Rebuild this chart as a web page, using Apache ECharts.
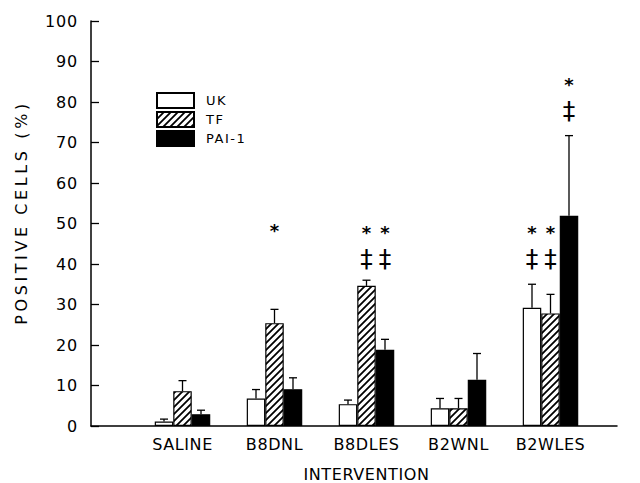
<!DOCTYPE html>
<html><head><meta charset="utf-8">
<script src="https://cdn.jsdelivr.net/npm/echarts@6/dist/echarts.min.js"></script>
<style>html,body{margin:0;padding:0;background:#fff}#c{width:640px;height:483px}</style>
</head><body><div id="c"></div><script>
// ---- data ----
const categories = ['SALINE', 'B8DNL', 'B8DLES', 'B2WNL', 'B2WLES'];
const seriesNames = ['UK', 'TF', 'PAI-1'];
const ukMean = [1.1, 6.8, 5.4, 4.4, 29.2];
const ukErr = [0.6, 2.2, 1.0, 2.4, 5.8];
const tfMean = [8.6, 25.4, 34.6, 4.4, 27.8];
const tfErr = [2.6, 3.4, 1.4, 2.4, 4.7];
const paiMean = [2.9, 9.1, 18.8, 11.4, 51.9];
const paiErr = [1.0, 2.8, 2.6, 6.5, 19.8];
const yMin = 0, yMax = 100, yStep = 10;
const yTitle = 'POSITIVE CELLS (%)';
const xTitle = 'INTERVENTION';
// significance marks: [category, series index, value, mark]
const annotations = [
  ['B8DNL', 1, 49.2, '*'],
  ['B8DLES', 1, 48.8, '*'], ['B8DLES', 1, 41.4, '\u2021'],
  ['B8DLES', 2, 48.8, '*'], ['B8DLES', 2, 41.4, '\u2021'],
  ['B2WLES', 0, 48.8, '*'], ['B2WLES', 0, 41.4, '\u2021'],
  ['B2WLES', 1, 48.8, '*'], ['B2WLES', 1, 41.4, '\u2021'],
  ['B2WLES', 2, 85.4, '*'], ['B2WLES', 2, 78.0, '\u2021']
];

// ---- style ----
const FONT = 'DejaVu Sans';
const BAR_W = 18.5;
const means = [ukMean, tfMean, paiMean];
const errs = [ukErr, tfErr, paiErr];

const pc = document.createElement('canvas'); pc.width = 7; pc.height = 7;
const g = pc.getContext('2d');
g.fillStyle = '#fff'; g.fillRect(0, 0, 7, 7);
g.strokeStyle = '#000'; g.lineWidth = 1.8; g.lineCap = 'square';
g.beginPath();
g.moveTo(-1, 8); g.lineTo(8, -1);
g.moveTo(-1, 1); g.lineTo(1, -1);
g.moveTo(6, 8); g.lineTo(8, 6);
g.stroke();
const hatch = {image: pc, repeat: 'repeat', imageWidth: 7, imageHeight: 7};
const fills = ['#fff', hatch, '#000'];

const chart = echarts.init(document.getElementById('c'), null, {renderer: 'svg', width: 640, height: 483});

const barSeries = seriesNames.map((n, k) => ({
  name: n, type: 'bar', xAxisIndex: 1, yAxisIndex: 1,
  barWidth: BAR_W, barGap: '0%',
  data: means[k],
  itemStyle: {color: fills[k], borderColor: '#000', borderWidth: 1.2},
  z: 2
}));

const errSeries = seriesNames.map((n, k) => ({
  type: 'custom', xAxisIndex: 1, yAxisIndex: 1, z: 3,
  data: categories.map((c, i) => [i, means[k][i], means[k][i] + errs[k][i]]),
  encode: {x: 0, y: [1, 2]},
  renderItem: function (params, api) {
    const b = api.coord([api.value(0), api.value(1)]);
    const t = api.coord([api.value(0), api.value(2)]);
    const x = b[0] + (k - 1) * BAR_W;
    const st = {stroke: '#000', lineWidth: 1.3};
    return {type: 'group', children: [
      {type: 'line', shape: {x1: x, y1: b[1], x2: x, y2: t[1]}, style: st},
      {type: 'line', shape: {x1: x - 4, y1: t[1], x2: x + 4, y2: t[1]}, style: st}
    ]};
  }
}));

const annoSeries = {
  type: 'custom', xAxisIndex: 1, yAxisIndex: 1, z: 4,
  data: annotations.map(a => [categories.indexOf(a[0]), a[2], a[1], a[3]]),
  encode: {x: 0, y: 1},
  renderItem: function (params, api) {
    const p = api.coord([api.value(0), api.value(1)]);
    const k = api.value(2);
    const txt = annotations[params.dataIndex][3];
    const star = txt === '*';
    return {type: 'text', x: p[0] + (k - 1) * BAR_W, y: p[1] + (star ? 4 : 0),
      style: {text: txt, fill: '#000', align: 'center', verticalAlign: 'middle',
        font: (star ? 'bold 18px ' : '25px ') + '"' + FONT + '"'}};
  }
};

chart.setOption({
  animation: false,
  backgroundColor: '#fff',
  textStyle: {fontFamily: FONT, color: '#000'},
  legend: {
    data: seriesNames, orient: 'vertical', left: 151, top: 87, padding: 5,
    itemWidth: 37, itemHeight: 15, itemGap: 2, icon: 'rect',
    textStyle: {fontFamily: FONT, fontSize: 13, color: '#000', padding: [0, 0, 0, 7]}
  },
  grid: [
    {left: 91, right: 23, top: 21, bottom: 57, containLabel: false, outerBoundsMode: 'none'},
    {left: 136.5, right: 43.5, top: 21, bottom: 57, containLabel: false, outerBoundsMode: 'none'}
  ],
  xAxis: [
    {gridIndex: 0, type: 'value', min: 0, max: 1,
      axisLine: {show: true, lineStyle: {color: '#000', width: 1.5}},
      axisTick: {show: false}, axisLabel: {show: false}, splitLine: {show: false}},
    {gridIndex: 1, type: 'category', data: categories,
      axisLine: {show: false}, axisTick: {show: false},
      axisLabel: {interval: 0, fontSize: 16, color: '#000', fontFamily: FONT, margin: 10},
      name: xTitle, nameLocation: 'middle', nameGap: 40,
      nameTextStyle: {fontSize: 16, lineHeight: 16, color: '#000', fontFamily: FONT}}
  ],
  yAxis: [
    {gridIndex: 0, type: 'value', min: yMin, max: yMax, interval: yStep,
      axisLine: {show: true, lineStyle: {color: '#000', width: 1.5}},
      axisTick: {show: true, inside: true, length: 8, lineStyle: {color: '#000', width: 1.3}},
      axisLabel: {fontSize: 16, color: '#000', fontFamily: FONT, margin: 13},
      splitLine: {show: false}},
    {gridIndex: 1, type: 'value', min: yMin, max: yMax, show: false}
  ],
  graphic: [{
    type: 'text', x: 21, y: 212.5, rotation: Math.PI / 2,
    style: {text: yTitle, fill: '#000', align: 'center', verticalAlign: 'middle',
      font: '16px "' + FONT + '"'}
  }],
  series: [...barSeries, ...errSeries, annoSeries]
});

function applySpacing() {
  document.querySelectorAll('#c svg text').forEach(t => {
    const s = t.textContent;
    if (s === yTitle) t.style.letterSpacing = '3.6px';
    else if (categories.includes(s) || s === xTitle) t.style.letterSpacing = '0.6px';
    else if (/^\d+$/.test(s)) t.style.letterSpacing = '0.8px';
    else if (seriesNames.includes(s)) t.style.letterSpacing = '1.5px';
  });
}
chart.on('finished', applySpacing);
chart.getZr().refreshImmediately();
applySpacing();
</script></body></html>
